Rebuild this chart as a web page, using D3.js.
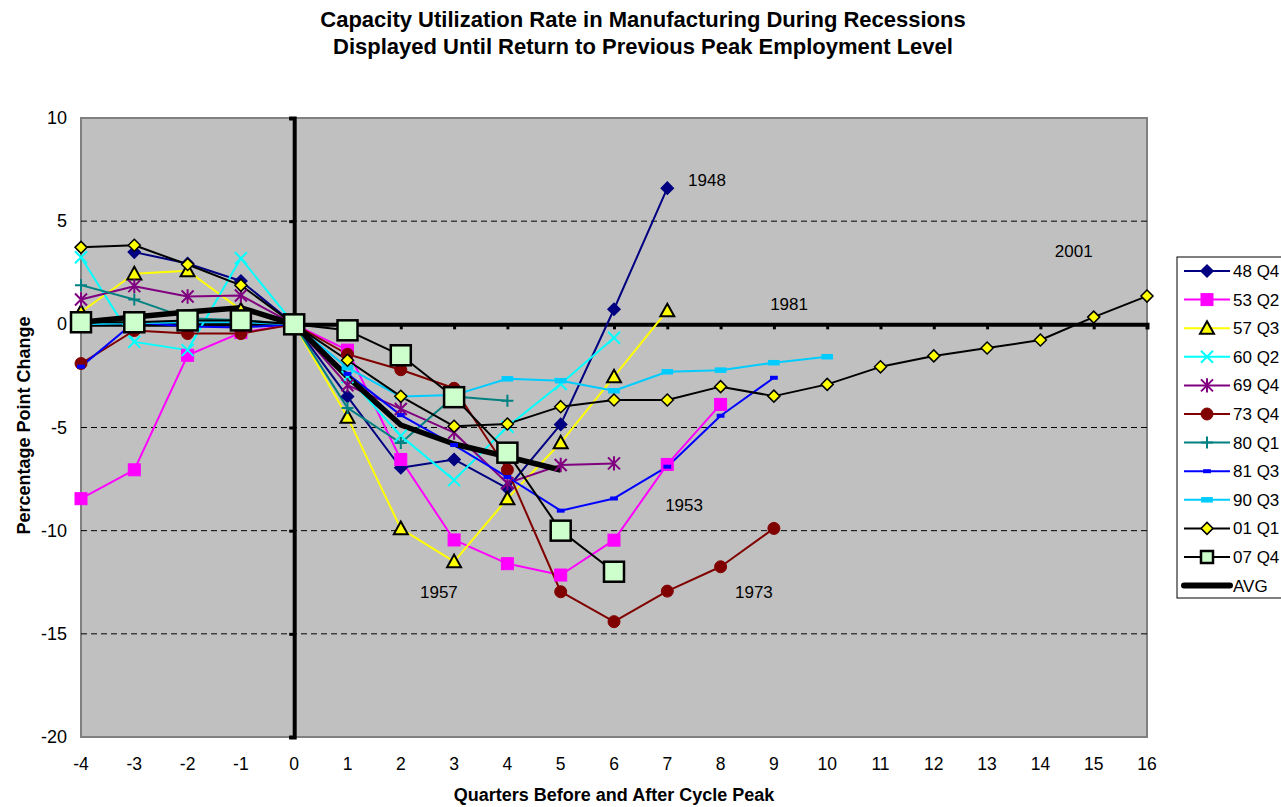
<!DOCTYPE html>
<html><head><meta charset="utf-8">
<script src="https://cdn.jsdelivr.net/npm/d3@7"></script>
<style>body{margin:0;background:#fff;overflow:hidden}svg{display:block;font-family:"Liberation Sans",Arial,sans-serif}</style>
</head><body><svg id="c" width="1281" height="807"></svg>
<script>
const quarters = [-4,-3,-2,-1,0,1,2,3,4,5,6,7,8,9,10,11,12,13,14,15,16];
const yTicks = [10,5,0,-5,-10,-15,-20];
const s48Q4 = [null,3.5,2.95,2.1,0,-3.5,-6.95,-6.55,-7.95,-4.85,0.73,6.6];
const s53Q2 = [-8.45,-7.05,-1.5,-0.4,0,-1.25,-6.55,-10.45,-11.6,-12.15,-10.46,-6.79,-3.88];
const s57Q3 = [0.6,2.45,2.6,0.7,0,-4.5,-9.9,-11.5,-8.45,-5.74,-2.54,0.66];
const s60Q2 = [3.25,-0.85,-1.25,3.2,0,-2.55,-5.4,-7.55,-4.96,-2.89,-0.65];
const s69Q4 = [1.2,1.85,1.35,1.4,0,-2.95,-4.1,-5.25,-7.7,-6.82,-6.74];
const s73Q4 = [-1.9,-0.3,-0.45,-0.45,0,-1.45,-2.2,-3.1,-7.05,-12.96,-14.41,-12.93,-11.75,-9.89];
const s80Q1 = [1.9,1.2,0.3,0.2,0,-4.05,-5.75,-3.5,-3.7];
const s81Q3 = [-2.05,0.1,-0.1,-0.15,0,-2.4,-4.4,-5.85,-7.4,-9.03,-8.44,-6.9,-4.43,-2.59];
const s90Q3 = [0.0,0.05,0.1,0.1,0,-2.1,-3.5,-3.43,-2.64,-2.73,-3.22,-2.3,-2.22,-1.86,-1.57];
const s01Q1 = [3.73,3.83,2.9,1.89,0,-1.74,-3.49,-4.94,-4.83,-3.99,-3.67,-3.67,-3.02,-3.48,-2.91,-2.06,-1.53,-1.15,-0.76,0.35,1.37];
const s07Q4 = [0.1,0.1,0.19,0.19,0,-0.29,-1.5,-3.53,-6.22,-10.0,-11.99];
const sAVG = [0.1,0.35,0.6,0.8,0,-2.54,-4.88,-5.8,-6.42,-7.06];
const seriesNames = ["48 Q4","53 Q2","57 Q3","60 Q2","69 Q4","73 Q4","80 Q1","81 Q3","90 Q3","01 Q1","07 Q4","AVG"];
const annotations = [["1948",7.39,6.7],["2001",14.27,3.26],["1981",8.93,0.69],["1953",6.96,-9.07],["1957",2.36,-13.24],["1973",8.27,-13.24]];

const series = [
 {name:"48 Q4",data:s48Q4,line:"#000080",w:2,marker:"diamond",fill:"#000080",stroke:"#000080",size:6},
 {name:"53 Q2",data:s53Q2,line:"#FF00FF",w:2,marker:"square",fill:"#FF00FF",stroke:"#FF00FF",size:6},
 {name:"57 Q3",data:s57Q3,line:"#FFFF00",w:2,marker:"triangle",fill:"#FFFF00",stroke:"#000",size:7},
 {name:"60 Q2",data:s60Q2,line:"#00FFFF",w:2,marker:"x",fill:"none",stroke:"#00FFFF",size:6},
 {name:"69 Q4",data:s69Q4,line:"#800080",w:2,marker:"star",fill:"none",stroke:"#800080",size:6},
 {name:"73 Q4",data:s73Q4,line:"#800000",w:2,marker:"circle",fill:"#800000",stroke:"#800000",size:6},
 {name:"80 Q1",data:s80Q1,line:"#008080",w:2,marker:"plus",fill:"none",stroke:"#008080",size:6},
 {name:"81 Q3",data:s81Q3,line:"#0000FF",w:2,marker:"dash",fill:"#0000FF",stroke:"none",size:3},
 {name:"90 Q3",data:s90Q3,line:"#00CCFF",w:2,marker:"dash",fill:"#00CCFF",stroke:"none",size:4.5},
 {name:"01 Q1",data:s01Q1,line:"#000",w:2,marker:"diamond",fill:"#FFFF00",stroke:"#000",size:6},
 {name:"07 Q4",data:s07Q4,line:"#000",w:2,marker:"square",fill:"#CCFFCC",stroke:"#000",size:10},
 {name:"AVG",data:sAVG,line:"#000",w:5.5,marker:null}
];

const svg = d3.select("#c");
const L=81,R=1147,T=118,B=737;
const x = d3.scaleLinear().domain([-4,16]).range([L,R]);
const y = d3.scaleLinear().domain([-20,10]).range([B,T]);

// titles
svg.append("text").attr("x",643).attr("y",27).attr("text-anchor","middle").attr("font-size",22).attr("font-weight","bold").text("Capacity Utilization Rate in Manufacturing During Recessions");
svg.append("text").attr("x",643).attr("y",54).attr("text-anchor","middle").attr("font-size",22).attr("font-weight","bold").text("Displayed Until Return to Previous Peak Employment Level");

// plot area
svg.append("rect").attr("x",L).attr("y",T).attr("width",R-L).attr("height",B-T).attr("fill","#C0C0C0").attr("stroke","#808080").attr("stroke-width",2);
// gridlines
svg.append("g").selectAll("line").data(yTicks.filter(v=>v!==0&&v!==10&&v!==-20)).join("line")
 .attr("x1",L).attr("x2",R).attr("y1",d=>y(d)).attr("y2",d=>y(d)).attr("stroke","#000").attr("stroke-width",1).attr("stroke-dasharray","6,4");

// y tick labels
svg.append("g").selectAll("text").data(yTicks).join("text")
 .attr("x",67).attr("y",d=>y(d)+6).attr("text-anchor","end").attr("font-size",18).text(d=>d);
// x tick labels
svg.append("g").selectAll("text").data(quarters).join("text")
 .attr("x",d=>x(d)).attr("y",770).attr("text-anchor","middle").attr("font-size",17.5).text(d=>d);

// axes (thick) at 0
const xAxis = d3.axisBottom(x).tickValues(quarters).tickSize(5).tickFormat("");
const gx = svg.append("g").attr("transform",`translate(0,${y(0)})`).call(xAxis);
gx.select(".domain").attr("stroke","#000").attr("stroke-width",4);
gx.selectAll(".tick line").attr("stroke","#000").attr("stroke-width",3);
const yAxis = d3.axisLeft(y).tickValues(yTicks).tickSize(5).tickFormat("");
const gy = svg.append("g").attr("transform",`translate(${x(0)},0)`).call(yAxis);
gy.select(".domain").attr("stroke","#000").attr("stroke-width",4);
gy.selectAll(".tick line").attr("stroke","#000").attr("stroke-width",3);

// axis titles
svg.append("text").attr("x",614).attr("y",801).attr("text-anchor","middle").attr("font-size",18).attr("font-weight","bold").text("Quarters Before and After Cycle Peak");
svg.append("text").attr("transform",`translate(30,${(T+B)/2 - 2}) rotate(-90)`).attr("text-anchor","middle").attr("font-size",18).attr("font-weight","bold").text("Percentage Point Change");

const lineGen = d3.line().defined(d=>d.v!==null).x(d=>x(d.q)).y(d=>y(d.v));
const pts = s => s.data.map((v,i)=>({q:quarters[i],v:v}));

function drawMarker(g, type, cx, cy, s, fill, stroke) {
  if (type==="diamond") g.append("path").attr("d",`M${cx},${cy-s}L${cx+s},${cy}L${cx},${cy+s}L${cx-s},${cy}Z`).attr("fill",fill).attr("stroke",stroke).attr("stroke-width",1.5);
  else if (type==="square") g.append("rect").attr("x",cx-s).attr("y",cy-s).attr("width",2*s).attr("height",2*s).attr("fill",fill).attr("stroke",stroke).attr("stroke-width",stroke==="#000"?2.5:1);
  else if (type==="triangle") g.append("path").attr("d",`M${cx},${cy-s}L${cx+s},${cy+s*0.8}L${cx-s},${cy+s*0.8}Z`).attr("fill",fill).attr("stroke",stroke).attr("stroke-width",2);
  else if (type==="circle") g.append("circle").attr("cx",cx).attr("cy",cy).attr("r",s).attr("fill",fill).attr("stroke",stroke);
  else if (type==="x") g.append("path").attr("d",`M${cx-s},${cy-s}L${cx+s},${cy+s}M${cx-s},${cy+s}L${cx+s},${cy-s}`).attr("stroke",stroke).attr("stroke-width",2);
  else if (type==="plus") g.append("path").attr("d",`M${cx-s},${cy}L${cx+s},${cy}M${cx},${cy-s}L${cx},${cy+s}`).attr("stroke",stroke).attr("stroke-width",2);
  else if (type==="star") g.append("path").attr("d",`M${cx-s},${cy-s}L${cx+s},${cy+s}M${cx-s},${cy+s}L${cx+s},${cy-s}M${cx},${cy-s*1.2}L${cx},${cy+s*1.2}`).attr("stroke",stroke).attr("stroke-width",2);
  else if (type==="dash") g.append("rect").attr("x",cx-s*1.3).attr("y",cy-s/2-0.5).attr("width",s*2.6).attr("height",s+1).attr("fill",fill);
}

const gl = svg.append("g");
series.forEach(s=>{
  gl.append("path").datum(pts(s)).attr("d",lineGen).attr("fill","none").attr("stroke",s.line).attr("stroke-width",s.w).attr("stroke-linejoin","round");
});
const gm = svg.append("g");
series.forEach(s=>{
  if(!s.marker) return;
  pts(s).filter(d=>d.v!==null).forEach(d=>drawMarker(gm,s.marker,x(d.q),y(d.v),s.size,s.fill,s.stroke));
});

// annotations
svg.append("g").selectAll("text").data(annotations).join("text")
 .attr("x",d=>x(d[1])).attr("y",d=>y(d[2])).attr("font-size",17).attr("text-anchor","start").text(d=>d[0]);

// legend
const lg = svg.append("g");
lg.append("rect").attr("x",1177).attr("y",257).attr("width",130).attr("height",341).attr("fill","#fff").attr("stroke","#000").attr("stroke-width",1);
series.forEach((s,i)=>{
  const yy = 271 + i*28.6;
  lg.append("line").attr("x1",1184).attr("x2",1230).attr("y1",yy).attr("y2",yy).attr("stroke",s.line).attr("stroke-width",s.name==="AVG"?6:2).attr("stroke-linecap",s.name==="AVG"?"round":"butt");
  if (s.marker) drawMarker(lg,s.marker,1207,yy,s.marker==="square"&&s.name==="07 Q4"?6:s.size,s.fill,s.stroke);
  lg.append("text").attr("x",1233).attr("y",yy+6).attr("font-size",17).text(s.name);
});
</script></body></html>
